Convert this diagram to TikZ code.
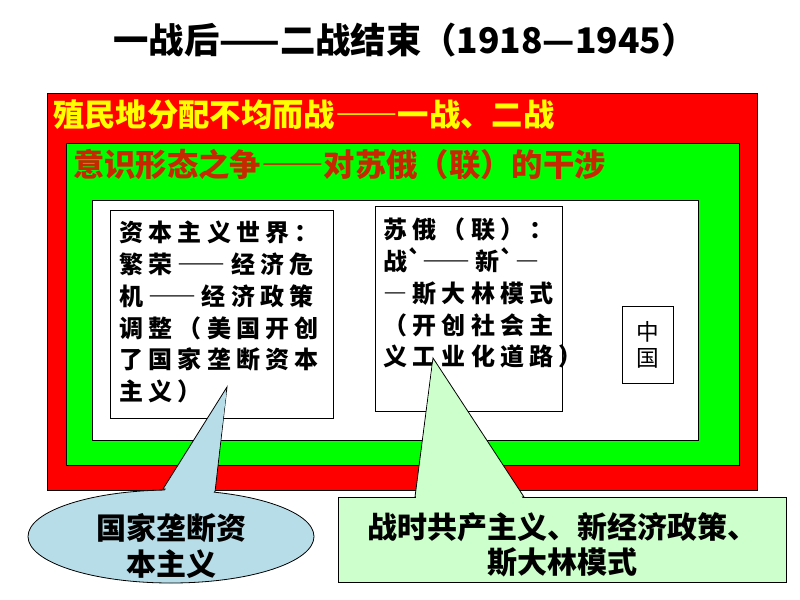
\documentclass[tikz,border=0pt]{standalone}
\usepackage{fontspec}
\setmainfont{Noto Sans CJK SC}
\newfontfamily\fullfont{Noto Sans CJK SC}[CharacterWidth=Full]
\newfontfamily\boxfont{Noto Sans CJK SC}[CharacterWidth=Full, LetterSpace=22]
\newfontfamily\tickfont{Noto Sans CJK SC}
\usetikzlibrary{shapes.geometric,positioning}
\definecolor{warRed}{RGB}{255,0,0}
\definecolor{ideoGreen}{RGB}{0,255,0}
\definecolor{textYellow}{RGB}{255,255,0}
\definecolor{textBrown}{RGB}{200,40,0}
\definecolor{bubbleBlue}{RGB}{183,221,232}
\definecolor{noteGreen}{RGB}{204,255,204}
\newcommand\tick{{\tickfont`}}

\begin{document}
\begin{tikzpicture}[
    x=0.75pt, y=-0.75pt,
    frame/.style={rectangle, draw=black, line width=0.6pt, inner sep=0pt},
    boxtext/.style={anchor=north west, inner sep=0pt, align=left, font=\boxfont\bfseries\fontsize{18pt}{23.8pt}\selectfont},
    heading/.style={anchor=west, inner sep=0pt, font=\fullfont\bfseries\fontsize{23.5pt}{26pt}\selectfont},
    note/.style={align=center, inner sep=0pt, font=\fullfont\bfseries\fontsize{22.5pt}{26.5pt}\selectfont}
]
    \useasboundingbox[fill=white] (0,0) rectangle (800,600);

    \node[font=\bfseries\fontsize{26.5pt}{30pt}\selectfont] (title) at (405,40) {一战后——二战结束（1918—1945）};

    % nested frames
    \node[frame, fill=warRed, minimum width=532.5pt, minimum height=297.75pt] (colony) at (402,291.5) {};
    \node[heading, text=textYellow] (colonytext) at (53,115) {殖民地分配不均而战——一战、二战};
    \node[frame, fill=ideoGreen, minimum width=504.75pt, minimum height=241.5pt] (ideology) at (402.5,304) {};
    \node[heading, text=textBrown] (ideologytext) at (73,165) {意识形态之争——对苏俄（联）的干涉};
    \node[frame, fill=white, minimum width=454.5pt, minimum height=180pt] (world) at (395,320) {};

    % inner boxes
    \node[frame, minimum width=167.25pt, minimum height=156pt] (capital) at (221.5,314) {};
    \node[boxtext] (capitaltext) at (119,221) {资本主义世界：\\繁荣——经济危\\机——经济政策\\调整（美国开创\\了国家垄断资本\\主义）};
    \node[frame, minimum width=140.25pt, minimum height=153.75pt] (soviet) at (468.5,308.5) {};
    \node[boxtext] (soviettext) at (383,218) {苏俄（联）：\\战\tick——新\tick—\\—斯大林模式\\（开创社会主\\义工业化道路）};
    \node[frame, align=center, minimum width=38.25pt, minimum height=57.75pt, font=\fontsize{17pt}{19.5pt}\selectfont] (china) at (647.5,344.5) {中\\国};

    % callouts
    \coordinate (capitaltip) at (227,387);
    \coordinate (sovietttip) at (433,358);
    \fill[bubbleBlue, draw=black, line width=0.6pt] (163,489) -- (capitaltip) -- (215,492) -- cycle;
    \node[ellipse, draw=black, fill=bubbleBlue, line width=0.6pt, minimum width=214.5pt, minimum height=69.75pt] (monopoly) at (171,536.5) {};
    \fill[bubbleBlue] (164.5,491) -- (226.5,392) -- (213.5,494) -- cycle;
    \node[note] (monopolytext) at (171,546) {国家垄断资\\本主义};

    \fill[noteGreen, draw=black, line width=0.6pt] (415,497) -- (sovietttip) -- (524,497) -- cycle;
    \node[frame, fill=noteGreen, minimum width=336pt, minimum height=63.75pt] (policy) at (562,539.5) {};
    \fill[noteGreen] (416,498) -- (433,362) -- (522.5,498) -- cycle;
    \node[note] (policytext) at (562,545) {战时共产主义、新经济政策、\\斯大林模式};
\end{tikzpicture}
\end{document}
